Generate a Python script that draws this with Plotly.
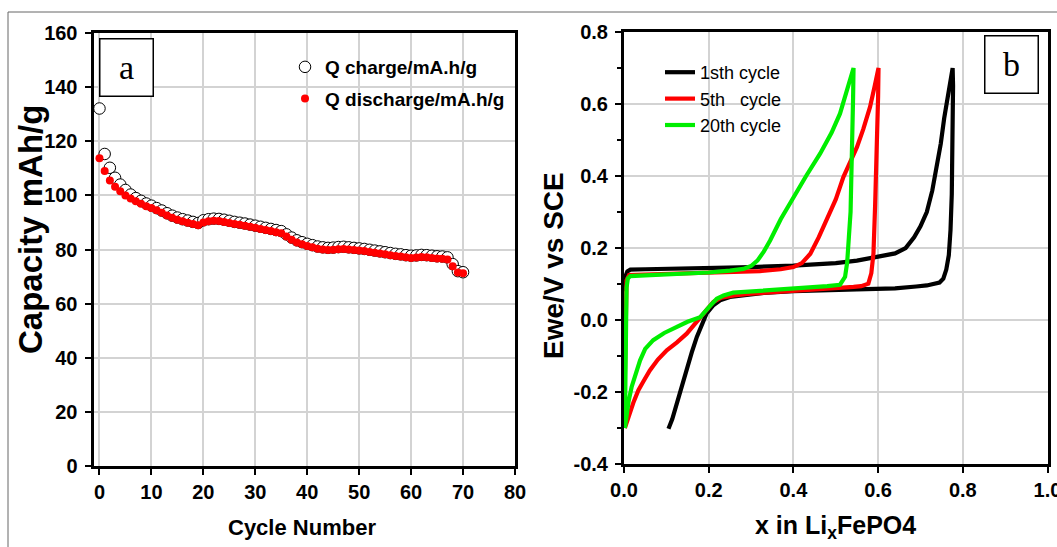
import plotly.graph_objects as go

# ---------------- data: panel a (capacity vs cycle) ----------------
cycles = list(range(71))
q_discharge = [113.7, 109.0, 105.5, 103.2, 101.5, 100.0, 98.8, 97.8, 96.9, 96.0,
               95.3, 94.5, 93.6, 92.6, 91.7, 91.0, 90.4, 89.9, 89.4, 89.0,
               90.0, 90.4, 90.6, 90.5, 90.2, 89.8, 89.4, 89.1, 88.8, 88.4,
               88.0, 87.6, 87.2, 86.8, 86.4, 86.0, 84.8, 83.6, 82.6, 81.9,
               81.3, 80.8, 80.3, 80.0, 79.8, 79.9, 80.1, 80.2, 80.0, 79.8,
               79.6, 79.4, 79.1, 78.8, 78.5, 78.2, 77.9, 77.6, 77.4, 77.1,
               76.9, 77.0, 77.2, 77.1, 76.9, 76.7, 76.6, 76.3, 73.8, 71.5, 71.2]
q_charge = [132.1, 115.3, 110.2, 106.5, 104.0, 102.0, 100.3, 99.0, 98.0, 97.0,
            96.2, 95.3, 94.4, 93.4, 92.5, 91.8, 91.2, 90.7, 90.2, 89.8,
            90.8, 91.2, 91.4, 91.3, 91.0, 90.6, 90.2, 89.9, 89.6, 89.2,
            88.8, 88.4, 88.0, 87.6, 87.2, 86.8, 85.6, 84.4, 83.4, 82.7,
            82.1, 81.6, 81.1, 80.8, 80.6, 80.7, 80.9, 81.0, 80.8, 80.6,
            80.4, 80.2, 79.9, 79.6, 79.3, 79.0, 78.7, 78.4, 78.2, 77.9,
            77.7, 77.8, 78.0, 77.9, 77.7, 77.5, 77.4, 77.1, 74.6, 72.0, 71.6]

# ---------------- data: panel b (potential vs x) ----------------
x_c1 = [0.000, 0.003, 0.008, 0.015, 0.05, 0.10, 0.20, 0.30, 0.40, 0.50, 0.55, 0.60,
        0.64, 0.665, 0.685, 0.70, 0.715, 0.728, 0.738, 0.748, 0.756, 0.764, 0.770, 0.776,
        0.777, 0.776, 0.774, 0.771, 0.767, 0.761, 0.754, 0.745, 0.73, 0.715, 0.69, 0.64,
        0.55, 0.48, 0.40, 0.33, 0.28, 0.25, 0.227, 0.21, 0.195, 0.185, 0.172, 0.16,
        0.148, 0.136, 0.124, 0.114, 0.105]
v_c1 = [0.08, 0.12, 0.135, 0.140, 0.141, 0.142, 0.145, 0.147, 0.151, 0.158, 0.165, 0.175,
        0.185, 0.20, 0.23, 0.26, 0.30, 0.36, 0.42, 0.49, 0.56, 0.62, 0.67, 0.70,
        0.65, 0.50, 0.35, 0.25, 0.18, 0.14, 0.115, 0.104, 0.099, 0.096, 0.093, 0.088,
        0.085, 0.083, 0.080, 0.075, 0.069, 0.064, 0.055, 0.040, 0.018, -0.010, -0.047, -0.09,
        -0.14, -0.19, -0.242, -0.275, -0.302]

x_c5 = [0.000, 0.001, 0.002, 0.003, 0.006, 0.012, 0.05, 0.085, 0.15, 0.20, 0.25, 0.321,
        0.37, 0.40, 0.42, 0.44, 0.46, 0.479, 0.50, 0.518, 0.535, 0.55, 0.565, 0.581,
        0.592, 0.601, 0.600, 0.597, 0.593, 0.589, 0.584, 0.577, 0.56, 0.542, 0.50, 0.45,
        0.40, 0.35, 0.30, 0.26, 0.23, 0.211, 0.195, 0.18, 0.165, 0.148, 0.125, 0.101,
        0.08, 0.061, 0.046, 0.034, 0.022, 0.014, 0.007, 0.002]
v_c5 = [-0.30, -0.20, -0.05, 0.05, 0.11, 0.125, 0.126, 0.127, 0.129, 0.131, 0.133, 0.136,
        0.141, 0.147, 0.158, 0.184, 0.23, 0.277, 0.335, 0.397, 0.44, 0.48, 0.53, 0.592,
        0.65, 0.70, 0.62, 0.462, 0.32, 0.184, 0.13, 0.101, 0.094, 0.092, 0.089, 0.086,
        0.083, 0.078, 0.073, 0.068, 0.062, 0.050, 0.028, 0.008, -0.015, -0.038, -0.062, -0.084,
        -0.11, -0.14, -0.17, -0.195, -0.23, -0.26, -0.285, -0.30]

x_c20 = [0.002, 0.004, 0.005, 0.006, 0.009, 0.015, 0.05, 0.10, 0.15, 0.20, 0.25, 0.282,
         0.30, 0.315, 0.33, 0.345, 0.37, 0.40, 0.43, 0.463, 0.49, 0.51, 0.527, 0.542,
         0.541, 0.539, 0.535, 0.531, 0.527, 0.522, 0.51, 0.48, 0.44, 0.40, 0.35, 0.30,
         0.258, 0.235, 0.219, 0.20, 0.18, 0.15, 0.124, 0.095, 0.069, 0.05, 0.038, 0.027,
         0.018, 0.011, 0.006, 0.0024, 0.002]
v_c20 = [-0.30, -0.15, 0.00, 0.09, 0.115, 0.122, 0.124, 0.126, 0.128, 0.132, 0.137, 0.142,
         0.150, 0.165, 0.19, 0.221, 0.28, 0.342, 0.40, 0.462, 0.52, 0.573, 0.64, 0.70,
         0.62, 0.45, 0.30, 0.23, 0.16, 0.12, 0.098, 0.094, 0.091, 0.088, 0.085, 0.081,
         0.076, 0.068, 0.059, 0.035, 0.008, -0.005, -0.019, -0.036, -0.056, -0.08, -0.112, -0.15,
         -0.186, -0.225, -0.26, -0.288, -0.30]

x_ticks_a = [0, 10, 20, 30, 40, 50, 60, 70, 80]
y_ticks_a = [0, 20, 40, 60, 80, 100, 120, 140, 160]
x_ticks_b = [0.0, 0.2, 0.4, 0.6, 0.8, 1.0]
x_labels_b = ["0.0", "0.2", "0.4", "0.6", "0.8", "1.0"]
y_ticks_b = [-0.4, -0.2, 0.0, 0.2, 0.4, 0.6, 0.8]
y_labels_b = ["-0.4", "-0.2", "0.0", "0.2", "0.4", "0.6", "0.8"]

W, H = 1057, 547
FONT = "Liberation Sans, Arial, sans-serif"
GRID = "#d3d3d3"

fig = go.Figure()

fig.add_trace(go.Scatter(
    x=cycles, y=q_charge, mode="markers", name="Q charge/mA.h/g",
    marker=dict(symbol="circle", size=11.5, color="white",
                line=dict(color="black", width=1)),
    xaxis="x", yaxis="y", legend="legend", legendgroup="c"))
fig.add_trace(go.Scatter(
    x=cycles, y=q_discharge, mode="markers", name="Q discharge/mA.h/g",
    marker=dict(symbol="circle", size=8, color="#ff0000", line=dict(width=0)),
    xaxis="x", yaxis="y", legend="legend", legendgroup="d"))

for xs, vs, nm, col, g in [(x_c1, v_c1, "1sth cycle", "#000000", "g1"),
                           (x_c5, v_c5, "5th   cycle", "#ff0000", "g2"),
                           (x_c20, v_c20, "20th cycle", "#00ee00", "g3")]:
    fig.add_trace(go.Scatter(
        x=xs, y=vs, mode="lines", name=nm,
        line=dict(color=col, width=4.2),
        xaxis="x2", yaxis="y2", legend="legend2", legendgroup=g))

def px_x(p):
    return p / W

def px_y(p):
    return 1 - p / H

axis_common = dict(
    showline=True, linecolor="black", linewidth=3, mirror=True,
    ticks="outside", ticklen=6, tickwidth=2, tickcolor="black",
    showgrid=True, gridcolor=GRID, gridwidth=1.5, zeroline=False,
    automargin=False, ticklabeloverflow="allow",
    tickfont=dict(family=FONT, size=20, color="black", weight="bold"),
)

fig.update_layout(
    width=W, height=H,
    margin=dict(l=0, r=0, t=0, b=0, autoexpand=False),
    paper_bgcolor="white", plot_bgcolor="white",
    showlegend=True,
    xaxis=dict(domain=[px_x(93.5), px_x(515)], range=[-1.15, 80],
               tickvals=x_ticks_a, anchor="y", **axis_common),
    yaxis=dict(domain=[px_y(466), px_y(33)], range=[0, 160],
               tickvals=y_ticks_a, anchor="x", ticklabelstandoff=3, **axis_common),
    xaxis2=dict(domain=[px_x(624), px_x(1047.5)], range=[0, 1.0],
                tickvals=x_ticks_b, ticktext=x_labels_b, anchor="y2", **axis_common),
    yaxis2=dict(domain=[px_y(464), px_y(32)], range=[-0.4, 0.8],
                tickvals=y_ticks_b, ticktext=y_labels_b, anchor="x2", ticklabelstandoff=3,
                minor=dict(ticks="outside", ticklen=4, tickwidth=2, tickcolor="black",
                           dtick=0.1, tick0=0, showgrid=False),
                **axis_common),
    legend=dict(x=px_x(285), y=px_y(48), xanchor="left", yanchor="top",
                bgcolor="rgba(0,0,0,0)", traceorder="grouped", tracegroupgap=4,
                font=dict(family=FONT, size=19, color="black", weight="bold")),
    legend2=dict(x=px_x(660), y=px_y(54), xanchor="left", yanchor="top",
                 bgcolor="rgba(0,0,0,0)", traceorder="grouped", tracegroupgap=0,
                 font=dict(family=FONT, size=18, color="black")),
)

ann_common = dict(xref="paper", yref="paper", showarrow=False,
                  xanchor="center", yanchor="middle")

# axis titles
fig.add_annotation(text="Cycle Number", x=px_x(302), y=px_y(527),
                   font=dict(family=FONT, size=22, color="black", weight="bold"),
                   **ann_common)
fig.add_annotation(text="x in Li<sub>x</sub>FePO4", x=px_x(835), y=px_y(527),
                   font=dict(family=FONT, size=25, color="black", weight="bold"),
                   **ann_common)
fig.add_annotation(text="Capacity mAh/g", x=px_x(31), y=px_y(230), textangle=-90,
                   font=dict(family=FONT, size=33, color="black", weight="bold"),
                   **ann_common)
fig.add_annotation(text="Ewe/V vs SCE", x=px_x(553), y=px_y(266), textangle=-90,
                   font=dict(family=FONT, size=28, color="black", weight="bold"),
                   **ann_common)

# panel labels
for t, cx, cy in [("a", 126, 67), ("b", 1011.5, 64.5)]:
    fig.add_annotation(text=t, x=px_x(cx), y=px_y(cy),
                       width=52, height=56, borderpad=0,
                       bordercolor="black", borderwidth=1.5, bgcolor="white",
                       font=dict(family="Liberation Serif, Times New Roman, serif",
                                 size=34, color="black"),
                       **ann_common)

# outer frame (image border)
fig.add_shape(type="line", xref="paper", yref="paper",
              x0=px_x(8), x1=1, y0=px_y(12), y1=px_y(12),
              line=dict(color="#666666", width=1))
fig.add_shape(type="line", xref="paper", yref="paper",
              x0=px_x(8), x1=px_x(8), y0=px_y(12), y1=0,
              line=dict(color="#666666", width=1))

fig.write_html("out.html", config={"displayModeBar": False},
               post_script="document.body.style.margin='0';document.body.style.overflow='hidden';")
